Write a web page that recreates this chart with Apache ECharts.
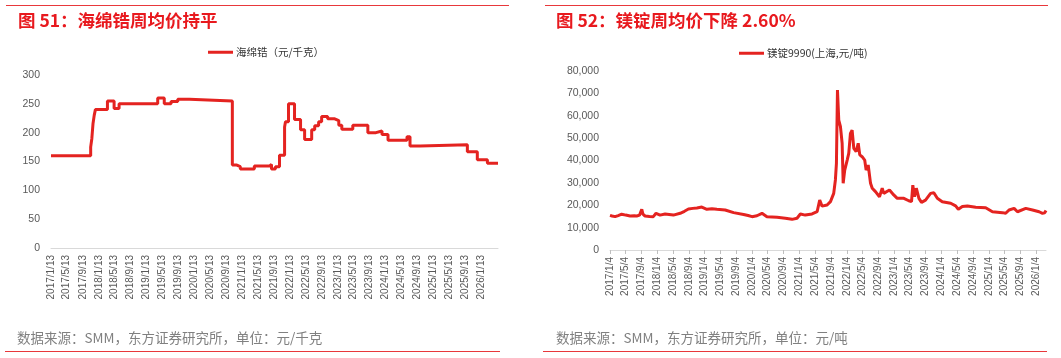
<!DOCTYPE html>
<html><head><meta charset="utf-8">
<script src="https://cdn.jsdelivr.net/npm/echarts@6/dist/echarts.min.js"></script>
<style>html,body{margin:0;padding:0;background:#fff}#c{width:1061px;height:358px}</style>
</head><body><div id="c"></div>
<script>
// ---- Left chart: 海绵锆 (元/千克), step changes [date, value]
const zrDates = ['2017/1/13','2017/11/12','2017/11/21','2017/11/30','2017/12/9','2017/12/18','2018/3/20','2018/5/10','2018/6/17','2019/4/8','2019/5/28','2019/7/19','2019/9/8','2019/12/6','2020/10/29','2020/11/28','2020/12/29','2021/4/15','2021/8/8','2021/8/24','2021/9/23','2021/10/24','2021/12/2','2021/12/9','2022/1/1','2022/2/16','2022/4/3','2022/5/4','2022/6/27','2022/7/20','2022/8/19','2022/9/11','2022/10/27','2022/12/20','2023/1/20','2023/2/12','2023/5/7','2023/8/30','2023/10/31','2023/12/16','2024/1/31','2024/6/24','2024/7/17','2024/10/2','2025/9/28','2025/12/13','2026/2/28','2026/5/20'];
const zrValues = [160,175,190,216,230,240,255,242,250,260,250,254,258,255,144,141,137,142,145,137,141,161,210,219,250,223,205,188,205,212,219,228,224,221,213,206,213,200,203,197,187,193,177,179,167,153,147,147];
const zrTicks = ['2017/1/13','2017/5/13','2017/9/13','2018/1/13','2018/5/13','2018/9/13','2019/1/13','2019/5/13','2019/9/13','2020/1/13','2020/5/13','2020/9/13','2021/1/13','2021/5/13','2021/9/13','2022/1/13','2022/5/13','2022/9/13','2023/1/13','2023/5/13','2023/9/13','2024/1/13','2024/5/13','2024/9/13','2025/1/13','2025/5/13','2025/9/13','2026/1/13'];

// ---- Right chart: 镁锭9990(上海,元/吨)
const mgDates = ['2017/1/4','2017/1/20','2017/2/12','2017/3/8','2017/4/4','2017/5/5','2017/6/8','2017/7/10','2017/7/29','2017/8/20','2017/9/6','2017/9/15','2017/10/1','2017/11/5','2017/12/4','2017/12/25','2018/1/25','2018/3/5','2018/4/5','2018/5/8','2018/6/29','2018/8/1','2018/9/1','2018/10/5','2018/11/5','2018/12/13','2019/1/21','2019/3/1','2019/4/8','2019/6/11','2019/8/15','2019/10/31','2019/12/5','2020/1/4','2020/2/11','2020/3/21','2020/4/28','2020/7/15','2020/9/17','2020/11/8','2020/12/16','2021/1/11','2021/2/18','2021/4/11','2021/5/20','2021/6/9','2021/6/27','2021/8/5','2021/8/31','2021/9/25','2021/10/8','2021/10/16','2021/10/24','2021/11/3','2021/11/16','2021/11/29','2021/12/7','2021/12/19','2022/1/7','2022/1/19','2022/2/1','2022/2/14','2022/2/27','2022/3/17','2022/4/2','2022/4/14','2022/5/2','2022/5/22','2022/6/2','2022/6/18','2022/7/6','2022/7/19','2022/8/13','2022/9/13','2022/10/4','2022/10/16','2022/11/29','2023/1/1','2023/1/28','2023/3/20','2023/4/27','2023/5/18','2023/5/28','2023/6/10','2023/6/24','2023/7/14','2023/8/3','2023/9/3','2023/10/12','2023/11/6','2023/12/3','2024/1/10','2024/3/15','2024/4/22','2024/5/13','2024/6/13','2024/7/22','2024/9/24','2024/12/10','2025/1/31','2025/4/18','2025/5/13','2025/6/8','2025/7/17','2025/8/12','2025/10/15','2025/12/6','2026/1/26','2026/2/21','2026/3/10','2026/3/20'];
const mgValues = [15500,15200,14900,15400,16000,15600,15200,15300,15200,15600,18200,16000,15200,15000,14900,16400,15600,16100,15900,15600,16400,17300,18300,18600,18800,19200,18200,18400,18200,17900,16700,15900,15400,14900,15300,16400,14900,14600,14200,13700,14200,16100,15600,16100,17100,22300,19600,20100,21600,25300,31300,38700,71500,58100,55100,47700,29800,35700,40200,43200,52100,53600,45400,44000,47700,42500,41700,40200,35700,38000,29800,27600,26100,23800,27600,25300,26800,24600,23100,23100,22000,21600,29000,23800,27600,23100,21300,22300,25300,25600,23100,21600,20900,19700,18200,19400,19700,19100,18900,17100,16700,16400,17900,18600,17100,18600,17900,17100,16400,16600,17600];
const mgTicks = ['2017/1/4','2017/5/4','2017/9/4','2018/1/4','2018/5/4','2018/9/4','2019/1/4','2019/5/4','2019/9/4','2020/1/4','2020/5/4','2020/9/4','2021/1/4','2021/5/4','2021/9/4','2022/1/4','2022/5/4','2022/9/4','2023/1/4','2023/5/4','2023/9/4','2024/1/4','2024/5/4','2024/9/4','2025/1/4','2025/5/4','2025/9/4','2026/1/4'];

function ts(s){const p=s.split('/').map(Number);return new Date(p[0],p[1]-1,p[2]).getTime();}
function fmt(v){const d=new Date(v);return d.getFullYear()+'/'+(d.getMonth()+1)+'/'+d.getDate();}

const RED='#E42320';
const chart = echarts.init(document.getElementById('c'));
const axLbl = {color:'#595959', fontSize:10, fontFamily:'"Liberation Sans", Arial, sans-serif'};
chart.setOption({
  animation:false,
  grid:[
    {left:51, width:447, top:75, bottom:110},
    {left:610, width:436, top:71, bottom:108}
  ],
  xAxis:[
    {type:'value', gridIndex:0, min:ts(zrDates[0]), max:ts(zrDates[zrDates.length-1]),
     axisLine:{lineStyle:{color:'#d9d9d9'}}, axisTick:{show:false}, splitLine:{show:false},
     axisLabel:Object.assign({rotate:90, margin:7, customValues:zrTicks.map(ts), formatter:fmt},axLbl)},
    {type:'value', gridIndex:1, min:ts(mgDates[0]), max:ts(mgDates[mgDates.length-1]),
     axisLine:{lineStyle:{color:'#d9d9d9'}}, axisTick:{show:true, length:4, customValues:mgTicks.map(ts), lineStyle:{color:'#bfbfbf'}}, splitLine:{show:false},
     axisLabel:Object.assign({rotate:90, margin:7, customValues:mgTicks.map(ts), formatter:fmt},axLbl)}
  ],
  yAxis:[
    {type:'value', gridIndex:0, min:0, max:300, interval:50, axisLine:{show:false}, axisTick:{show:false}, splitLine:{show:false},
     axisLabel:Object.assign({margin:11},axLbl,{fontSize:10.5})},
    {type:'value', gridIndex:1, min:0, max:80000, interval:10000, axisLine:{show:false}, axisTick:{show:false}, splitLine:{show:false},
     axisLabel:Object.assign({margin:11, formatter:v=>v.toLocaleString('en-US')},axLbl,{fontSize:10.5})}
  ],
  legend:[
    {left:208, top:47, padding:0, icon:'rect', itemWidth:25, itemHeight:3, data:['海绵锆（元/千克）'],
     textStyle:{fontSize:10.5, color:'#333', fontFamily:'"Noto Sans CJK SC", sans-serif', padding:[0,0,0,-2]}},
    {left:739, top:48, padding:0, icon:'rect', itemWidth:25, itemHeight:3, data:['镁锭9990(上海,元/吨)'],
     textStyle:{fontSize:10.5, color:'#333', fontFamily:'"Noto Sans CJK SC", sans-serif', padding:[0,0,0,-2]}}
  ],
  series:[
    {name:'海绵锆（元/千克）', type:'line', xAxisIndex:0, yAxisIndex:0, step:'end', showSymbol:false,
     lineStyle:{color:RED, width:3}, itemStyle:{color:RED},
     data:zrDates.map((d,i)=>[ts(d), zrValues[i]])},
    {name:'镁锭9990(上海,元/吨)', type:'line', xAxisIndex:1, yAxisIndex:1, showSymbol:false,
     lineStyle:{color:RED, width:3}, itemStyle:{color:RED},
     data:mgDates.map((d,i)=>[ts(d), mgValues[i]])}
  ],
  graphic:[
    {type:'line', shape:{x1:6,y1:5.5,x2:509,y2:5.5}, style:{stroke:'#E8383B', lineWidth:1}},
    {type:'line', shape:{x1:545,y1:5.5,x2:1048,y2:5.5}, style:{stroke:'#E8383B', lineWidth:1}},
    {type:'line', shape:{x1:5,y1:351.5,x2:500,y2:351.5}, style:{stroke:'#E8383B', lineWidth:1}},
    {type:'line', shape:{x1:543,y1:351.5,x2:1047,y2:351.5}, style:{stroke:'#E8383B', lineWidth:1}},
    {type:'text', x:18, y:20, style:{text:'图 51：海绵锆周均价持平', font:'bold 17.5px "Noto Sans CJK SC"', fill:'#E8191E', verticalAlign:'middle'}},
    {type:'text', x:556, y:20, style:{text:'图 52：镁锭周均价下降 2.60%', font:'bold 17.5px "Noto Sans CJK SC"', fill:'#E8191E', verticalAlign:'middle'}},
    {type:'text', x:17, y:338, style:{text:'数据来源：SMM，东方证券研究所，单位：元/千克', font:'13.5px "Noto Sans CJK SC"', fill:'#808080', verticalAlign:'middle'}},
    {type:'text', x:556, y:338, style:{text:'数据来源：SMM，东方证券研究所，单位：元/吨', font:'13.5px "Noto Sans CJK SC"', fill:'#808080', verticalAlign:'middle'}}
  ]
});
</script></body></html>
